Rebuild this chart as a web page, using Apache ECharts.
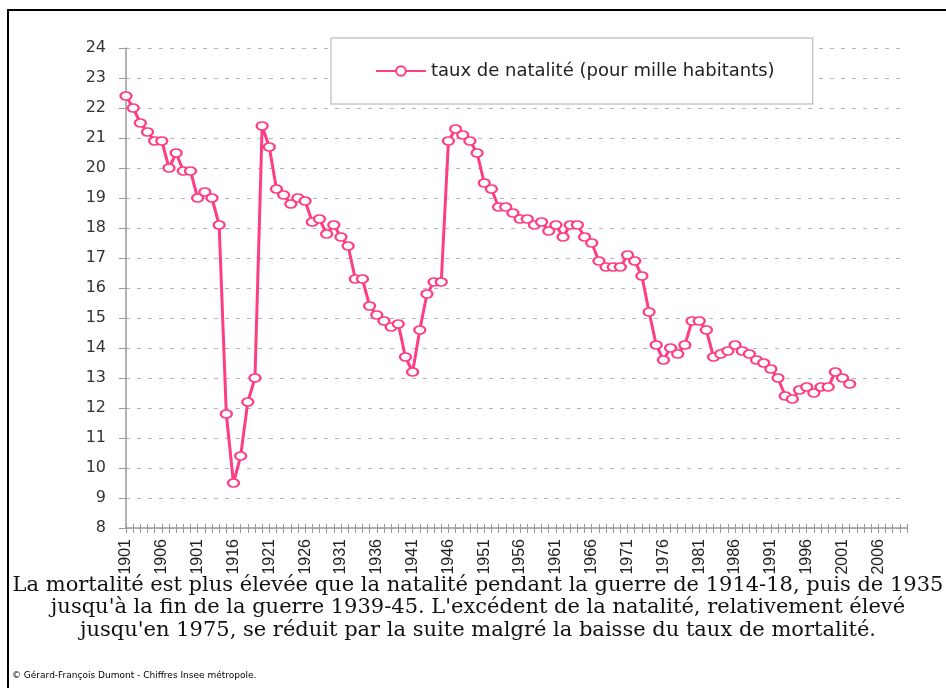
<!DOCTYPE html>
<html>
<head>
<meta charset="utf-8">
<script src="https://cdn.jsdelivr.net/npm/echarts@6/dist/echarts.min.js"></script>
<style>
  html, body { margin: 0; padding: 0; background: #fff; }
  #chart { width: 946px; height: 688px; }
</style>
</head>
<body>
<div id="chart"></div>
<script>
  // années de la catégorie (axe des x)
  const firstYear = 1901;
  const lastYear = 2010;
  const years = [];
  for (let y = firstYear; y <= lastYear; y++) {
    years.push(String(y));
  }
  // libellés affichés tous les 5 ans (tels quels sur l'original)
  const tickLabels = ['1901', '1906', '1901', '1916', '1921', '1926', '1931', '1936', '1941', '1946', '1951',
    '1956', '1961', '1966', '1971', '1976', '1981', '1986', '1991', '1996', '2001', '2006'];
  // taux de natalité, 1901 -> 2002
  const natalite = [
    22.4, 22.0, 21.5, 21.2, 20.9, 20.9, 20.0, 20.5, 19.9, 19.9,
    19.0, 19.2, 19.0, 18.1, 11.8, 9.5, 10.4, 12.2, 13.0, 21.4,
    20.7, 19.3, 19.1, 18.8, 19.0, 18.9, 18.2, 18.3, 17.8, 18.1,
    17.7, 17.4, 16.3, 16.3, 15.4, 15.1, 14.9, 14.7, 14.8, 13.7,
    13.2, 14.6, 15.8, 16.2, 16.2, 20.9, 21.3, 21.1, 20.9, 20.5,
    19.5, 19.3, 18.7, 18.7, 18.5, 18.3, 18.3, 18.1, 18.2, 17.9,
    18.1, 17.7, 18.1, 18.1, 17.7, 17.5, 16.9, 16.7, 16.7, 16.7,
    17.1, 16.9, 16.4, 15.2, 14.1, 13.6, 14.0, 13.8, 14.1, 14.9,
    14.9, 14.6, 13.7, 13.8, 13.9, 14.1, 13.9, 13.8, 13.6, 13.5,
    13.3, 13.0, 12.4, 12.3, 12.6, 12.7, 12.5, 12.7, 12.7, 13.2,
    13.0, 12.8
  ];
  const captionLines = [
    'La mortalité est plus élevée que la natalité pendant la guerre de 1914-18, puis de 1935',
    "jusqu'à la fin de la guerre 1939-45. L'excédent de la natalité, relativement élevé",
    "jusqu'en 1975, se réduit par la suite malgré la baisse du taux de mortalité."
  ];
  const credit = '© Gérard-François Dumont - Chiffres Insee métropole.';

  const pink = '#ff3d84';
  const chart = echarts.init(document.getElementById('chart'));
  chart.setOption({
    backgroundColor: '#fff',
    animation: false,
    grid: {
      left: 126,
      right: 39,
      top: 48,
      bottom: 160
    },
    legend: {
      data: ['taux de natalité (pour mille habitants)'],
      left: 331,
      top: 38,
      padding: [24, 38, 24, 44],
      backgroundColor: '#fff',
      borderColor: '#c8c8c8',
      borderWidth: 1.5,
      itemWidth: 50,
      itemHeight: 12,
      itemGap: 8,
      textStyle: {
        fontFamily: 'DejaVu Sans',
        fontSize: 18,
        color: '#222'
      }
    },
    xAxis: [
      {
        type: 'category',
        data: years,
        position: 'bottom',
        boundaryGap: false,
        axisLine: { lineStyle: { color: '#999', width: 1.5 } },
        axisTick: {
          interval: 0,
          length: 5,
          lineStyle: { color: '#999' }
        },
        axisLabel: {
          interval: 4,
          rotate: 90,
          margin: 11,
          fontFamily: 'Liberation Sans',
          fontSize: 16,
          color: '#222',
          formatter: function(value, index) {
            return tickLabels[index / 5] || '';
          }
        },
        splitLine: { show: false }
      },
      {
        // petits traits au-dessus de l'axe
        type: 'category',
        data: years,
        position: 'bottom',
        offset: 0,
        boundaryGap: false,
        axisLine: { show: false },
        axisTick: {
          inside: true,
          interval: 0,
          length: 4,
          lineStyle: { color: '#999' }
        },
        axisLabel: { show: false },
        splitLine: { show: false }
      }
    ],
    yAxis: {
      type: 'value',
      min: 8,
      max: 24,
      interval: 1,
      axisLine: { show: true, lineStyle: { color: '#999', width: 1.5 } },
      axisTick: { show: true, length: 7, lineStyle: { color: '#999' } },
      axisLabel: {
        margin: 20,
        fontFamily: 'DejaVu Sans',
        fontSize: 16,
        color: '#333'
      },
      splitLine: {
        lineStyle: { color: '#b5b5b5', type: [4, 7], width: 1 }
      }
    },
    series: [
      {
        name: 'taux de natalité (pour mille habitants)',
        type: 'line',
        xAxisIndex: 0,
        data: natalite,
        symbol: 'emptyCircle',
        showAllSymbol: true,
        symbolSize: [11, 8],
        lineStyle: { color: pink, width: 3 },
        itemStyle: { color: pink, borderColor: '#ff5a95', borderWidth: 1.5 }
      }
    ],
    graphic: [
      {
        type: 'rect',
        shape: { x: 8, y: 10, width: 960, height: 700 },
        style: { fill: 'none', stroke: '#000', lineWidth: 2 },
        silent: true
      },
      {
        type: 'text',
        x: 478,
        y: 574,
        style: {
          text: captionLines.join('\n'),
          textAlign: 'center',
          font: '21px "DejaVu Serif"',
          lineHeight: 22.5,
          fill: '#111'
        }
      },
      {
        type: 'text',
        x: 12,
        y: 671,
        style: {
          text: credit,
          font: '9px "DejaVu Sans"',
          fill: '#000'
        }
      }
    ]
  });
</script>
</body>
</html>
